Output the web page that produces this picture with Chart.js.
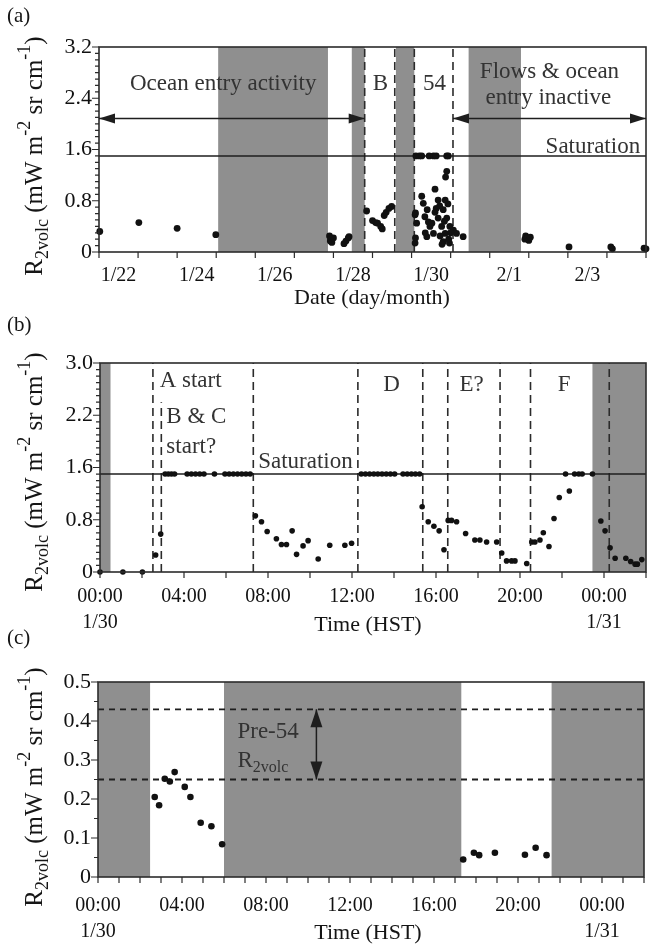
<!DOCTYPE html>
<html>
<head>
<meta charset="utf-8">
<script src="https://cdn.jsdelivr.net/npm/chart.js"></script>
<style>
  body { margin: 0; background: #fff; }
  canvas { position: absolute; left: 0; }
</style>
</head>
<body>
<canvas id="chartA" width="653" height="310" style="top:0"></canvas>
<canvas id="chartB" width="653" height="340" style="top:300px"></canvas>
<canvas id="chartC" width="653" height="328" style="top:620px"></canvas>
<script>
// (a) days since 1/22 00:00
const aDay = [0.02, 1.02, 2.0, 2.99, 5.9, 5.92, 5.93, 5.96, 6.0, 6.27, 6.32, 6.38, 6.4,
  6.85, 7.0, 7.08, 7.13, 7.21, 7.25, 7.3, 7.35, 7.42, 7.49,
  8.09, 8.1, 8.09, 8.13, 8.1, 8.11, 8.2, 8.26, 8.45, 8.56, 8.63, 8.9, 8.94,
  8.26, 8.3, 8.34, 8.4, 8.43, 8.47, 8.39, 8.35, 8.6, 8.68, 8.86, 8.63, 8.81, 8.68, 8.9, 8.77, 8.98,
  8.86, 9.07, 9.15, 9.32, 8.81, 8.97, 8.73, 8.56, 8.87, 8.9, 8.52, 8.6, 8.72, 8.93, 8.95, 9.0, 8.78, 8.84,
  10.9, 10.92, 10.96, 11.0, 11.04, 12.03, 13.1, 13.14, 13.95, 14.0];
const aR2 = [0.32, 0.46, 0.37, 0.27, 0.25, 0.17, 0.2, 0.15, 0.22, 0.13, 0.17, 0.22, 0.24,
  0.64, 0.49, 0.46, 0.45, 0.4, 0.36, 0.57, 0.62, 0.68, 0.71,
  0.14, 0.22, 0.58, 0.45, 0.61, 1.5, 1.5, 1.5, 1.5, 1.5, 1.5, 1.5, 1.5,
  0.87, 0.76, 0.55, 0.66, 0.47, 0.4, 0.24, 0.3, 0.98, 0.81, 0.81, 0.68, 0.66, 0.53, 0.53, 0.4, 0.4,
  0.29, 0.34, 0.29, 0.24, 0.16, 0.14, 0.25, 0.29, 1.17, 1.26, 0.45, 0.62, 0.72, 0.75, 0.2, 0.3, 0.12, 0.48,
  0.2, 0.25, 0.22, 0.18, 0.23, 0.08, 0.08, 0.05, 0.06, 0.05];
const aBands = [[3.05, 5.86], [6.47, 6.8], [7.6, 8.07], [9.46, 10.8]];
const aDashes = [6.8, 7.57, 8.07, 9.06];
const aTickPos = [0.5, 2.5, 4.5, 6.5, 8.5, 10.5, 12.5];
const aTickLab = ['1/22', '1/24', '1/26', '1/28', '1/30', '2/1', '2/3'];
const aYTicks = [0, 0.8, 1.6, 2.4, 3.2];
const aYLab = ['0', '0.8', '1.6', '2.4', '3.2'];

// (b) hours since 1/30 00:00
const bHour = [0, 1.09, 2.02, 2.65, 2.89,
  3.1, 3.25, 3.4, 3.55, 4.15, 4.35, 4.55, 4.75, 4.95, 5.45, 5.95, 6.15, 6.35, 6.55, 6.75, 6.95, 7.15,
  7.4, 7.69, 7.96, 8.4, 8.64, 8.88, 9.15, 9.36, 9.67, 9.91, 10.39, 10.94, 11.66, 11.98,
  12.44, 12.64, 12.84, 13.04, 13.23, 13.43, 13.63, 13.83, 14.03, 14.43, 14.63, 14.83, 15.02, 15.22,
  15.34, 15.63, 15.9, 16.15, 16.38, 16.58, 16.74, 16.98, 17.41, 17.85, 18.09, 18.41, 18.89,
  19.13, 19.36, 19.6, 19.76, 20.32, 20.56, 20.71, 20.95, 21.11, 21.38, 21.62, 21.87, 22.35,
  22.17, 22.6, 22.8, 22.96, 23.45,
  23.85, 24.05, 24.29, 24.53, 25.04, 25.27, 25.48, 25.59, 25.8];
const bR2 = [0, 0, 0, 0.26, 0.58,
  1.5, 1.5, 1.5, 1.5, 1.5, 1.5, 1.5, 1.5, 1.5, 1.5, 1.5, 1.5, 1.5, 1.5, 1.5, 1.5, 1.5,
  0.86, 0.77, 0.62, 0.51, 0.42, 0.42, 0.63, 0.27, 0.4, 0.48, 0.2, 0.41, 0.41, 0.44,
  1.5, 1.5, 1.5, 1.5, 1.5, 1.5, 1.5, 1.5, 1.5, 1.5, 1.5, 1.5, 1.5, 1.5,
  1.0, 0.77, 0.7, 0.63, 0.34, 0.79, 0.79, 0.77, 0.59, 0.49, 0.49, 0.46, 0.46,
  0.29, 0.17, 0.17, 0.17, 0.13, 0.46, 0.46, 0.49, 0.6, 0.39, 0.82, 1.14, 1.24,
  1.5, 1.5, 1.5, 1.5, 1.5,
  0.78, 0.63, 0.37, 0.21, 0.21, 0.16, 0.12, 0.12, 0.19];
const bBands = [[0, 0.5], [23.45, 26]];
const bDashes = [[2.52, null], [2.92, 2.6], [7.3, null], [12.28, null], [15.37, null],
  [16.56, null], [19.05, null], [20.5, null], [24.25, null]];
const bYTicks = [0, 0.8, 1.6, 2.4, 3.2];
const bYLab = ['0', '0.8', '1.6', '2.2', '3.0'];

// (c)
const cHour = [2.7, 2.91, 3.18, 3.42, 3.65, 4.13, 4.4, 4.89, 5.4, 5.91,
  17.39, 17.9, 18.15, 18.9, 20.33, 20.84, 21.36];
const cR2 = [0.205, 0.184, 0.252, 0.245, 0.269, 0.231, 0.205, 0.139, 0.13, 0.084,
  0.045, 0.062, 0.056, 0.062, 0.057, 0.075, 0.056];
const cBands = [[0, 2.48], [6.0, 17.3], [21.6, 26]];
const cYTicks = [0, 0.1, 0.2, 0.3, 0.4, 0.5];
const cYLab = ['0', '0.1', '0.2', '0.3', '0.4', '0.5'];

const hourPos = [0, 4, 8, 12, 16, 20, 24];
const hourLab = [['00:00', '1/30'], '04:00', '08:00', '12:00', '16:00', '20:00', ['00:00', '1/31']];
const saturation = 1.5;
const pre54 = [0.43, 0.25];

const SERIF = "'Liberation Serif', 'DejaVu Serif', serif";
const yTitle = [['R', 0], ['2volc', 1], [' (mW m', 0], ['-2', 2], [' sr cm', 0], ['-1', 2], [')', 0]];

function rich(ctx, parts, x, y, size, align) {
  const small = Math.round(size * 0.7);
  let w = 0;
  parts.forEach(p => { ctx.font = (p[1] ? small : size) + 'px ' + SERIF; w += ctx.measureText(p[0]).width; });
  let cx = align === 'center' ? x - w / 2 : align === 'right' ? x - w : x;
  ctx.textAlign = 'left';
  ctx.textBaseline = 'middle';
  parts.forEach(p => {
    ctx.font = (p[1] ? small : size) + 'px ' + SERIF;
    const dy = p[1] === 1 ? size * 0.32 : p[1] === 2 ? -size * 0.38 : 0;
    ctx.fillText(p[0], cx, y + dy);
    cx += ctx.measureText(p[0]).width;
  });
}

function decor(o) {
  return {
    id: 'decor',
    beforeDatasetsDraw(chart) {
      const { ctx, chartArea: a, scales: { x, y } } = chart;
      ctx.save();
      ctx.fillStyle = '#8f8f8f';
      o.bands.forEach(b => {
        const p0 = x.getPixelForValue(b[0]), p1 = x.getPixelForValue(b[1]);
        ctx.fillRect(p0, a.top, p1 - p0, a.bottom - a.top);
      });
      ctx.strokeStyle = '#2b2b2b';
      ctx.lineWidth = 1.6;
      ctx.setLineDash([8, 5]);
      (o.vLines || []).forEach(v => {
        const px = x.getPixelForValue(v[0]);
        ctx.beginPath();
        ctx.moveTo(px, a.bottom);
        ctx.lineTo(px, v[1] == null ? a.top : y.getPixelForValue(v[1]));
        ctx.stroke();
      });
      (o.hLines || []).forEach(h => {
        ctx.setLineDash(h.dash || []);
        ctx.lineWidth = h.w || 1.5;
        ctx.strokeStyle = '#1e1e1e';
        const py = y.getPixelForValue(h.y);
        ctx.beginPath();
        ctx.moveTo(a.left, py);
        ctx.lineTo(a.right, py);
        ctx.stroke();
      });
      ctx.restore();
    },
    afterDraw(chart) {
      const { ctx, chartArea: a, scales: { x, y } } = chart;
      ctx.save();
      ctx.strokeStyle = '#2b2b2b';
      ctx.lineWidth = 1.6;
      ctx.strokeRect(a.left, a.top, a.right - a.left, a.bottom - a.top);
      ctx.lineWidth = 1.2;
      ctx.beginPath();
      for (let v = x.min; v <= x.max + 1e-6; v += o.xStep) {
        const px = x.getPixelForValue(v);
        ctx.moveTo(px, a.bottom);
        ctx.lineTo(px, a.bottom + 6);
      }
      for (let i = 0; y.min + i * o.yStep <= y.max + 1e-6; i++) {
        const v = y.min + i * o.yStep;
        const major = Math.abs(v / o.yMajor - Math.round(v / o.yMajor)) < 1e-6;
        const py = y.getPixelForValue(v);
        ctx.moveTo(a.left, py);
        ctx.lineTo(a.left - (major ? 7 : 4), py);
      }
      ctx.stroke();

      // arrows
      ctx.fillStyle = '#1e1e1e';
      ctx.strokeStyle = '#1e1e1e';
      ctx.lineWidth = 1.5;
      (o.arrows || []).forEach(r => {
        const x0 = x.getPixelForValue(r[0]), y0 = y.getPixelForValue(r[1]);
        const x1 = x.getPixelForValue(r[2]), y1 = y.getPixelForValue(r[3]);
        ctx.beginPath(); ctx.moveTo(x0, y0); ctx.lineTo(x1, y1); ctx.stroke();
        const ang = Math.atan2(y1 - y0, x1 - x0);
        [[x1, y1, ang], [x0, y0, ang + Math.PI]].forEach(h => {
          ctx.save();
          ctx.translate(h[0], h[1]);
          ctx.rotate(h[2]);
          ctx.beginPath();
          ctx.moveTo(0, 0);
          ctx.lineTo(-o.head[0], -o.head[1]);
          ctx.lineTo(-o.head[0], o.head[1]);
          ctx.closePath();
          ctx.fill();
          ctx.restore();
        });
      });

      // notes
      ctx.fillStyle = '#333';
      (o.notes || []).forEach(n => {
        const parts = typeof n.t === 'string' ? [[n.t, 0]] : n.t;
        rich(ctx, parts, x.getPixelForValue(n.x), y.getPixelForValue(n.y), 23, n.al || 'center');
      });

      // titles
      ctx.fillStyle = '#151515';
      ctx.save();
      ctx.translate(o.yTitle[0], o.yTitle[1]);
      ctx.rotate(-Math.PI / 2);
      rich(ctx, yTitle, 0, 0, 25, 'center');
      ctx.restore();
      ctx.font = '22px ' + SERIF;
      ctx.textAlign = 'center';
      ctx.textBaseline = 'middle';
      ctx.fillText(o.xTitle[0], o.xTitle[1], o.xTitle[2]);
      ctx.textAlign = 'left';
      ctx.font = '21px ' + SERIF;
      ctx.fillText(o.label[0], 7, o.label[1]);
      ctx.restore();
    }
  };
}

function panel(id, o) {
  const h = document.getElementById(id).height;
  return new Chart(document.getElementById(id), {
    type: 'scatter',
    data: {
      datasets: [{
        data: o.xs.map((v, i) => ({ x: v, y: o.ys[i] })),
        backgroundColor: '#111',
        borderWidth: 0,
        pointRadius: o.r,
        clip: false
      }]
    },
    options: {
      responsive: false,
      animation: false,
      events: [],
      layout: { padding: { left: 0, top: o.area[1], right: 653 - o.area[2], bottom: 0 } },
      plugins: { legend: { display: false }, tooltip: { enabled: false } },
      scales: {
        x: {
          type: 'linear', min: o.xMin, max: o.xMax,
          afterBuildTicks: s => { s.ticks = o.xPos.map(v => ({ value: v })); },
          afterFit: s => { s.height = h - o.area[3]; },
          grid: { display: false, drawTicks: false },
          border: { display: false },
          ticks: {
            autoSkip: false, maxRotation: 0, padding: o.xPad, color: '#111',
            font: { family: SERIF, size: 20, lineHeight: 1.33 },
            callback: (v, i) => o.xLab[i]
          }
        },
        y: {
          type: 'linear', min: 0, max: o.yMax,
          afterBuildTicks: s => { s.ticks = o.yPos.map(v => ({ value: v })); },
          afterFit: s => { s.width = o.area[0]; },
          grid: { display: false, drawTicks: false },
          border: { display: false },
          ticks: {
            autoSkip: false, padding: 7, color: '#111',
            font: { family: SERIF, size: 22 },
            callback: (v, i) => o.yLab[i]
          }
        }
      }
    },
    plugins: [decor(o)]
  });
}

panel('chartA', {
  area: [99, 47, 646, 252], xs: aDay, ys: aR2, r: 3.4,
  xMin: 0, xMax: 14, xPos: aTickPos, xLab: aTickLab, xPad: 10, xStep: 1,
  yMax: 3.2, yPos: aYTicks, yLab: aYLab, yStep: 0.1, yMajor: 0.8,
  bands: aBands, vLines: aDashes.map(v => [v, null]),
  hLines: [{ y: saturation }],
  arrows: [[0, 2.085, 6.8, 2.085], [9.06, 2.085, 14, 2.085]], head: [16, 5],
  notes: [
    { t: 'Ocean entry activity', x: 3.18, y: 2.63 },
    { t: 'B', x: 7.2, y: 2.63 },
    { t: '54', x: 8.59, y: 2.63 },
    { t: 'Flows & ocean', x: 11.53, y: 2.81 },
    { t: 'entry inactive', x: 11.5, y: 2.41 },
    { t: 'Saturation', x: 13.85, y: 1.64, al: 'right' }
  ],
  yTitle: [35, 156], xTitle: ['Date (day/month)', 372, 298], label: ['(a)', 16]
});

panel('chartB', {
  area: [100, 63, 646, 272], xs: bHour, ys: bR2, r: 2.8,
  xMin: 0, xMax: 26, xPos: hourPos, xLab: hourLab, xPad: 11, xStep: 2,
  yMax: 3.2, yPos: bYTicks, yLab: bYLab, yStep: 0.1, yMajor: 0.8,
  bands: bBands, vLines: bDashes,
  hLines: [{ y: saturation }],
  notes: [
    { t: 'A start', x: 2.84, y: 2.92, al: 'left' },
    { t: 'B & C', x: 3.16, y: 2.38, al: 'left' },
    { t: 'start?', x: 3.16, y: 1.92, al: 'left' },
    { t: 'Saturation', x: 7.53, y: 1.69, al: 'left' },
    { t: 'D', x: 13.88, y: 2.87 },
    { t: 'E?', x: 17.7, y: 2.87 },
    { t: 'F', x: 22.1, y: 2.87 }
  ],
  yTitle: [35, 172], xTitle: ['Time (HST)', 368, 325], label: ['(b)', 25]
});

panel('chartC', {
  area: [98, 62, 644, 257], xs: cHour, ys: cR2, r: 3.3,
  xMin: 0, xMax: 26, xPos: hourPos, xLab: hourLab, xPad: 15, xStep: 1,
  yMax: 0.5, yPos: cYTicks, yLab: cYLab, yStep: 0.05, yMajor: 0.1,
  bands: cBands,
  hLines: [{ y: pre54[0], dash: [6, 5], w: 1.8 }, { y: pre54[1], dash: [6, 5], w: 1.8 }],
  arrows: [[10.4, pre54[1], 10.4, pre54[0]]], head: [18, 6],
  notes: [
    { t: 'Pre-54', x: 6.64, y: 0.372, al: 'left' },
    { t: [['R', 0], ['2volc', 1]], x: 6.64, y: 0.298, al: 'left' }
  ],
  yTitle: [35, 167], xTitle: ['Time (HST)', 368, 313], label: ['(c)', 18]
});
</script>
</body>
</html>
